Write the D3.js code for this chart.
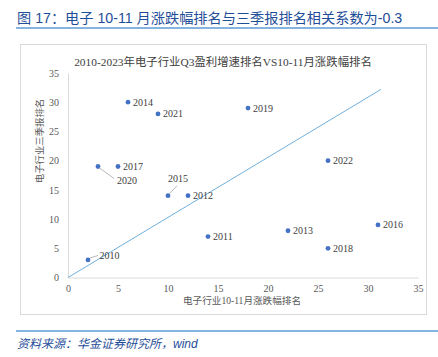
<!DOCTYPE html>
<html><head><meta charset="utf-8">
<script src="https://cdn.jsdelivr.net/npm/d3@7"></script>
<style>html,body{margin:0;padding:0;background:#fff;}svg{display:block;}</style>
</head><body><svg id="c" width="438" height="357"></svg>
<script>
const years = ["2010","2011","2012","2013","2014","2015","2016","2017","2018","2019","2020","2021","2022"];
const xRank = [2,14,12,22,6,10,31,5,26,18,3,9,26];
const yRank = [3,7,14,8,30,14,9,19,5,29,19,28,20];
const xTicks = [0,5,10,15,20,25,30,35];
const yTicks = [0,5,10,15,20,25,30,35];
const refLine = [[0,0],[31.3,32.2]];
const leaderYears = ["2020","2015","2010"];

const svg = d3.select("#c");
const serif = "'Liberation Serif','Noto Sans CJK SC',serif";
const sans = "'Liberation Sans','Noto Sans CJK SC',sans-serif";

// header
svg.append("text").attr("x",17).attr("y",23).attr("font-family",sans).attr("font-size",14.2)
  .attr("fill","#1f4e99").text("图 17：电子 10-11 月涨跌幅排名与三季报排名相关系数为-0.3");
svg.append("line").attr("x1",16).attr("x2",438).attr("y1",28).attr("y2",28).attr("stroke","#5b9bd5").attr("stroke-width",1.5);
svg.append("rect").attr("x",20.5).attr("y",44.5).attr("width",406).attr("height",270).attr("fill","none").attr("stroke","#d9d9d9");
svg.append("line").attr("x1",16).attr("x2",438).attr("y1",331).attr("y2",331).attr("stroke","#5b9bd5").attr("stroke-width",1.5);
svg.append("text").attr("x",17).attr("y",348).attr("font-family",sans).attr("font-size",12).attr("font-style","italic")
  .attr("fill","#1f4e99").text("资料来源：华金证券研究所，wind");

const x = d3.scaleLinear().domain([0,35]).range([68,418]);
const y = d3.scaleLinear().domain([0,35]).range([277.5,73]);

svg.append("text").attr("x",223).attr("y",65.5).attr("text-anchor","middle").attr("font-family",serif)
  .attr("font-size",11.4).attr("fill","#404040").text("2010-2023年电子行业Q3盈利增速排名VS10-11月涨跌幅排名");

const gx = svg.append("g").attr("transform",`translate(0,${y(0)})`)
  .call(d3.axisBottom(x).tickValues(xTicks).tickSize(0).tickPadding(7));
const gy = svg.append("g").attr("transform",`translate(${x(0)},0)`)
  .call(d3.axisLeft(y).tickValues(yTicks).tickSize(0).tickPadding(9));
[gx,gy].forEach(g=>{
  g.select(".domain").attr("stroke","#d9d9d9");
  g.selectAll("text").attr("font-family",serif).attr("font-size",10).attr("fill","#595959");
});

svg.append("text").attr("x",242).attr("y",303.5).attr("text-anchor","middle").attr("font-family",serif)
  .attr("font-size",9.6).attr("fill","#595959").text("电子行业10-11月涨跌幅排名");
svg.append("text").attr("transform","translate(42.5,141) rotate(-90)").attr("text-anchor","middle").attr("font-family",serif)
  .attr("font-size",9.4).attr("fill","#595959").text("电子行业三季报排名");

svg.append("path").attr("d",d3.line().x(d=>x(d[0])).y(d=>y(d[1]))(refLine))
  .attr("stroke","#6fb1dc").attr("stroke-width",1).attr("fill","none");

const data = years.map((yr,i)=>({yr,x:xRank[i],y:yRank[i]}));
svg.append("g").selectAll("circle").data(data).join("circle")
  .attr("cx",d=>x(d.x)).attr("cy",d=>y(d.y)).attr("r",2.4).attr("fill","#4472c4");

const lg = svg.append("g");
const lab = (tx,ty,t,anchor)=>lg.append("text").attr("x",tx).attr("y",ty).attr("text-anchor",anchor||"start")
  .attr("font-family",serif).attr("font-size",10).attr("fill","#404040").text(t);
const lead = (x1,y1,x2,y2)=>lg.append("line").attr("x1",x1).attr("y1",y1).attr("x2",x2).attr("y2",y2)
  .attr("stroke","#a6a6a6").attr("stroke-width",0.8);
data.forEach(d=>{
  const px = x(d.x), py = y(d.y);
  if(d.yr==="2015"){
    lead(px+1.5,py-2,px+9,py-10);
    lab(px+10,py-14,d.yr,"middle");
  } else if(d.yr==="2020"){
    lead(px+1.5,py+1.5,px+16,py+12);
    lab(px+19,py+17.5,d.yr);
  } else if(d.yr==="2010"){
    lead(px+2,py-2,px+10,py-4.5);
    lab(px+11.5,py-1,d.yr);
  } else {
    lab(px+5,py+3.5,d.yr);
  }
});
</script></body></html>
